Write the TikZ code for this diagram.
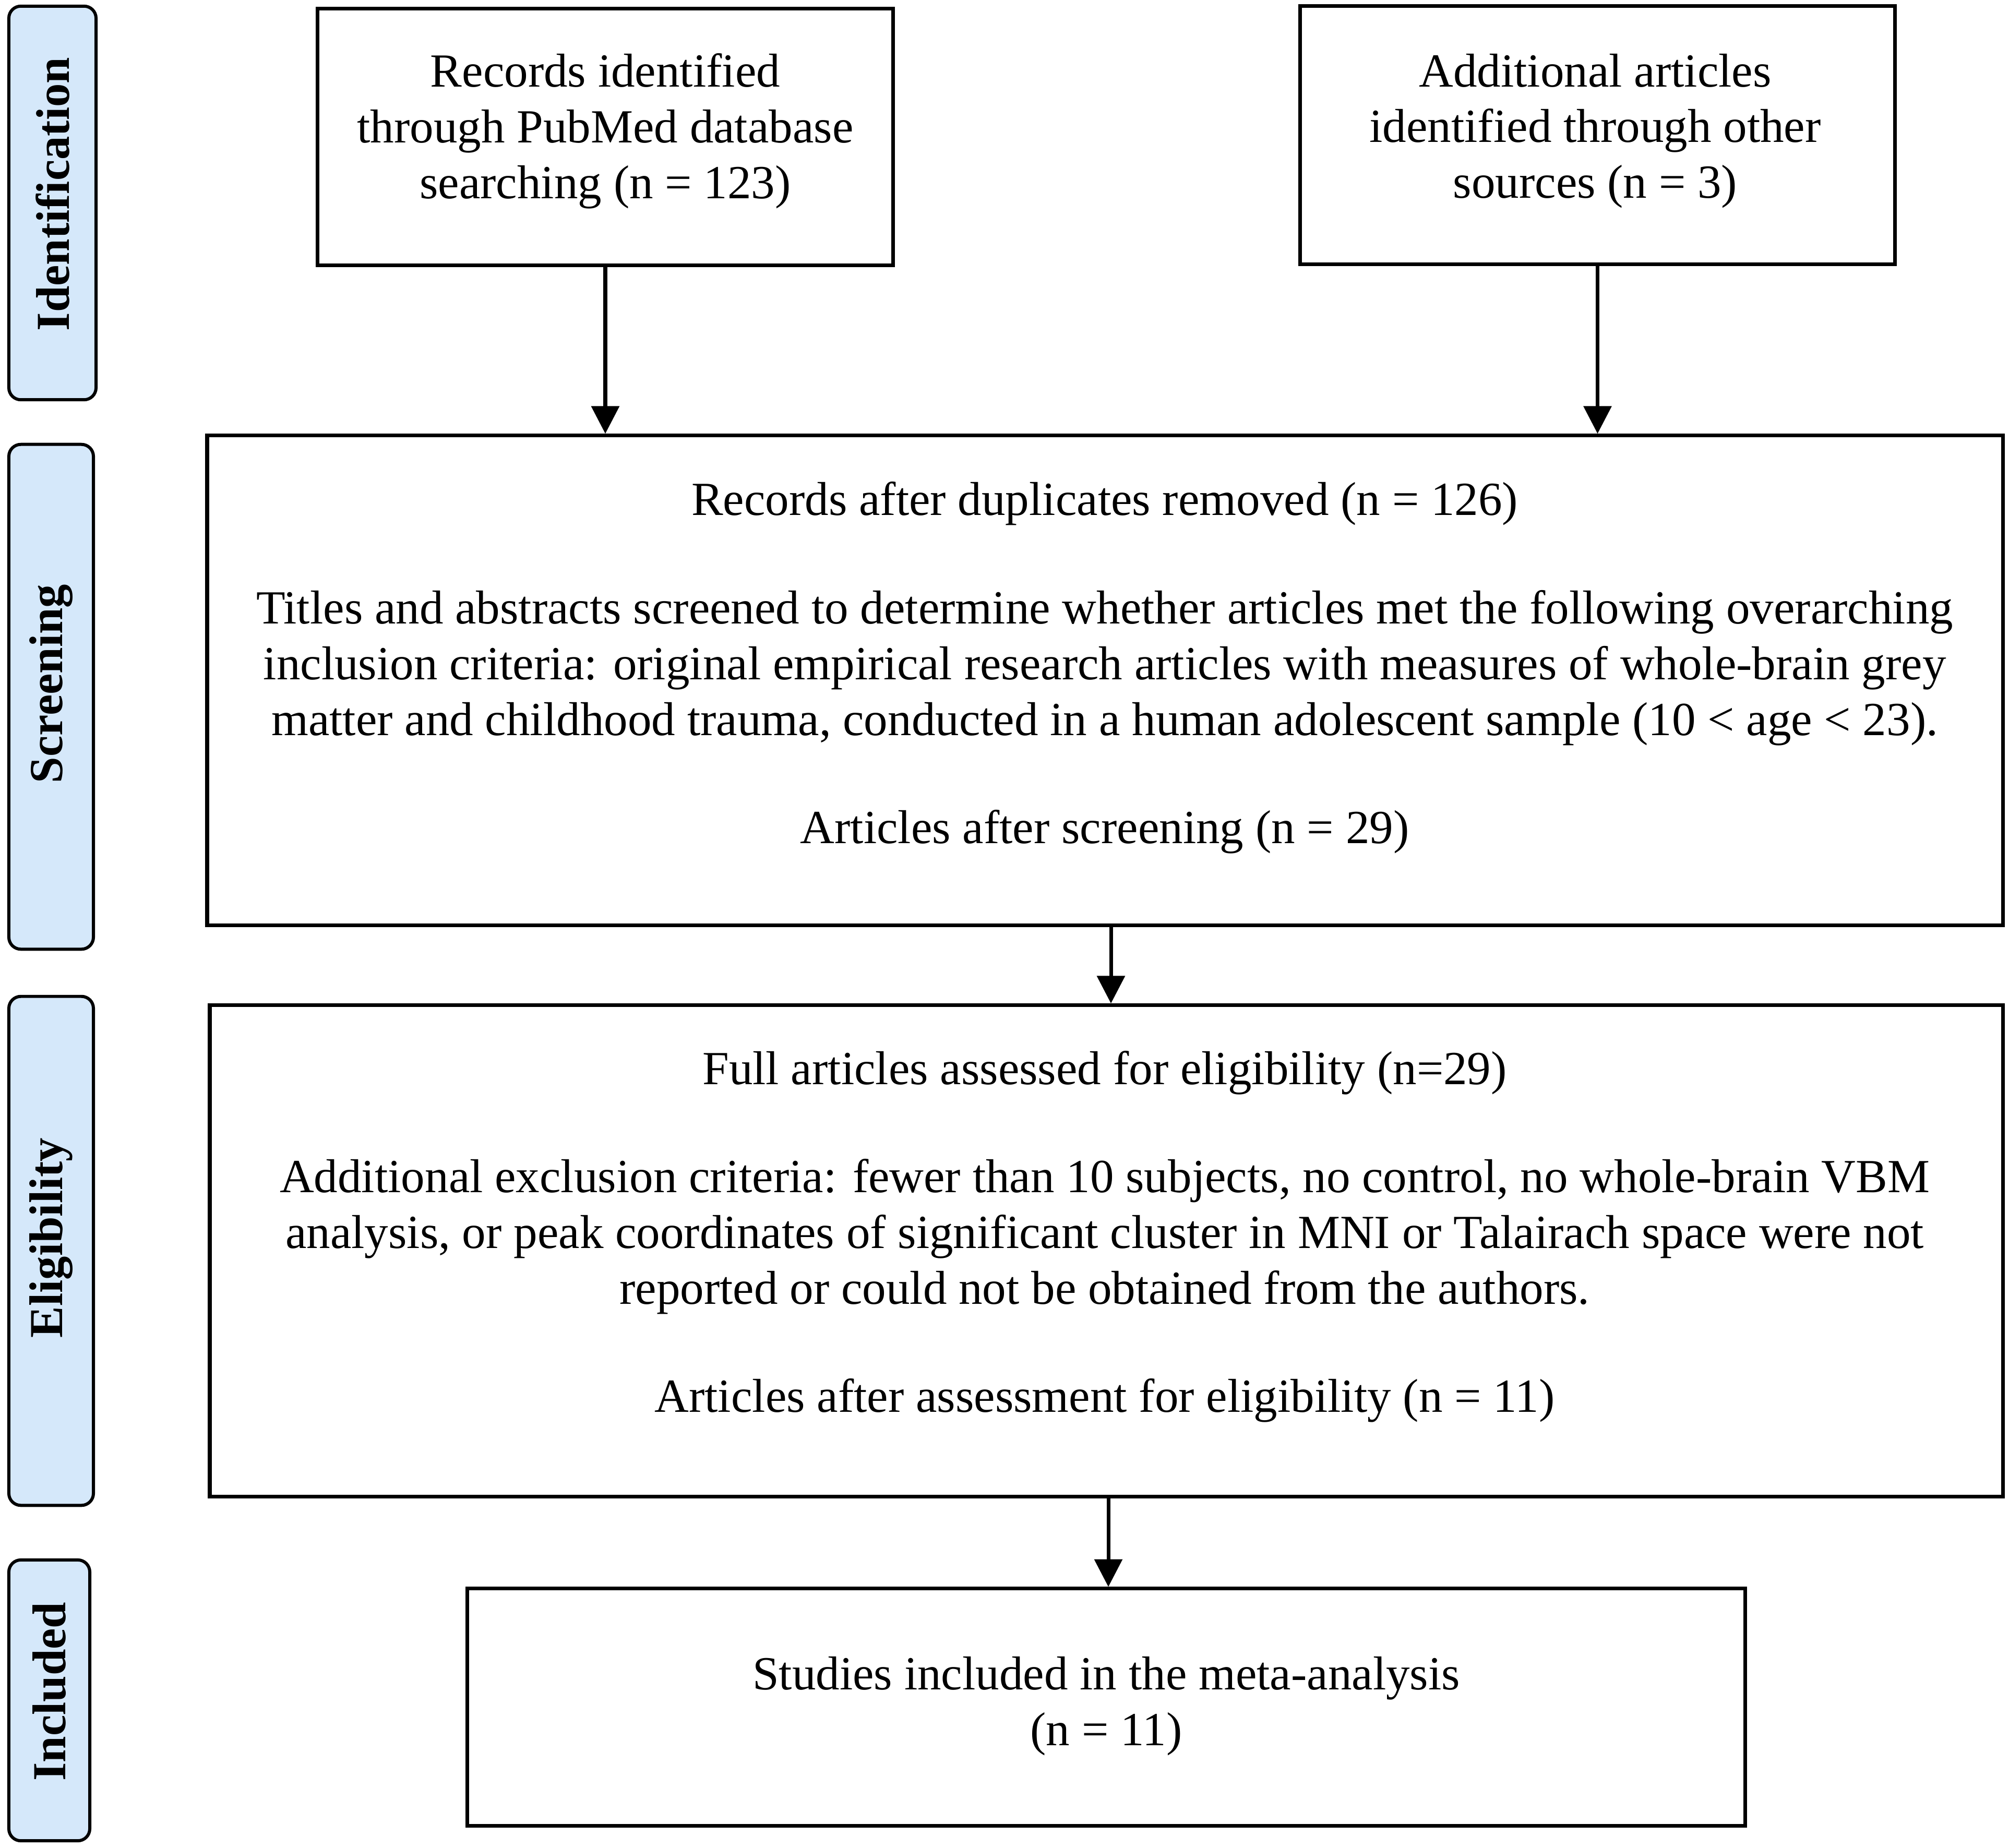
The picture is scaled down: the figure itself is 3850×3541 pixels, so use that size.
\documentclass[tikz,border=0pt]{standalone}
\usepackage{fontspec}
\setmainfont{Liberation Serif}
\usetikzlibrary{arrows.meta}
\definecolor{labfill}{RGB}{213,232,250}
\tikzset{
  box/.style={draw=black, line width=2pt, fill=white, inner sep=0pt},
  txt/.style={align=center, inner sep=0pt, font=\fontsize{25.9}{30.4}\selectfont},
  lab/.style={draw=black, line width=1.7pt, fill=labfill, rounded corners=0.23cm, rotate=90, inner sep=0pt,
    font=\fontsize{25.8}{30}\selectfont\bfseries},
  arr/.style={line width=2pt, -{Triangle[width=15pt,length=15pt]}}
}
\begin{document}
\begin{tikzpicture}[x=0.01cm,y=-0.01cm]
\useasboundingbox (0,0) rectangle (3850,3541);
% side labels
\node[lab, minimum width=7.54cm, minimum height=1.67cm] (lid) at (100.5,389) {\hspace*{0.34cm}Identification};
\node[lab, minimum width=9.67cm, minimum height=1.62cm] (lsc) at (98,1335.5) {\hspace*{0.5cm}Screening};
\node[lab, minimum width=9.75cm, minimum height=1.62cm] (lel) at (98,2397.5) {\hspace*{0.5cm}Eligibility};
\node[lab, minimum width=5.38cm, minimum height=1.55cm] (lin) at (94.5,3259) {\hspace*{0.34cm}Included};
% boxes
\node[box, minimum width=11.02cm, minimum height=4.91cm] (b1) at (1160,262.5) {};
\node[box, minimum width=11.39cm, minimum height=4.94cm] (b2) at (3061.5,259) {};
\node[box, minimum width=34.39cm, minimum height=9.38cm] (scr) at (2117.5,1304) {};
\node[box, minimum width=34.34cm, minimum height=9.41cm] (elig) at (2120,2397.5) {};
\node[box, minimum width=24.48cm, minimum height=4.54cm] (inc) at (2120,3272) {};
% texts
\node[txt] (t1) at (1160,251) {Records identified\\through PubMed database\\searching (n = 123)};
\node[txt] (t2) at (3057,251) {Additional articles\\identified through other\\sources (n = 3)};
\node[txt] (s1) at (2117,965) {Records after duplicates removed (n = 126)};
\node[txt] (s2) at (2117,1280) {Titles and abstracts screened to determine whether articles met the following overarching\\inclusion criteria: original empirical research articles with measures of whole-brain grey\\matter and childhood trauma, conducted in a human adolescent sample (10 < age < 23).};
\node[txt] (s3) at (2117,1594) {Articles after screening (n = 29)};
\node[txt] (e1) at (2117,2056) {Full articles assessed for eligibility (n=29)};
\node[txt] (e2) at (2117,2370) {Additional exclusion criteria: fewer than 10 subjects, no control, no whole-brain VBM\\analysis, or peak coordinates of significant cluster in MNI or Talairach space were not\\reported or could not be obtained from the authors.};
\node[txt] (e3) at (2117,2684) {Articles after assessment for eligibility (n = 11)};
\node[txt] (i1) at (2120,3270) {Studies included in the meta-analysis\\(n = 11)};
% arrow positions
\coordinate (a3) at (2129,0);
\coordinate (a4) at (2124,0);
% arrows
\draw[arr] (b1.south) -- (b1.south |- scr.north);
\draw[arr] (b2.south) -- (b2.south |- scr.north);
\draw[arr] (a3 |- scr.south) -- (a3 |- elig.north);
\draw[arr] (a4 |- elig.south) -- (a4 |- inc.north);
\end{tikzpicture}
\end{document}
